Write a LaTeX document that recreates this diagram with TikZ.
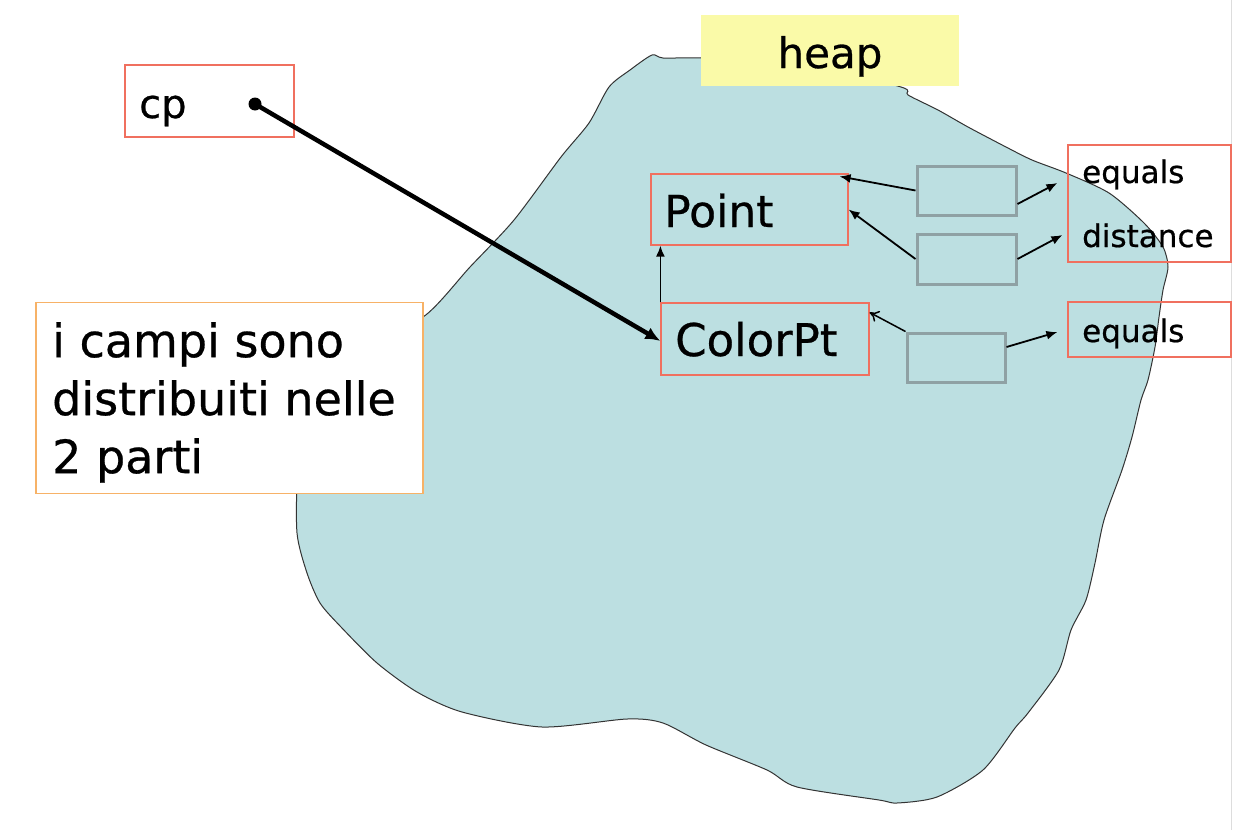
\documentclass[tikz,border=0pt]{standalone}
\usepackage{fontspec}
\setmainfont{DejaVu Sans}[FakeBold=0.6]
\usetikzlibrary{arrows.meta,calc}
\definecolor{blobfill}{HTML}{BCDFE1}
\definecolor{heapyellow}{HTML}{FAFAA8}
\definecolor{boxred}{HTML}{F0705F}
\definecolor{noteorange}{HTML}{F7B267}
\definecolor{slotgray}{HTML}{8FA1A4}
\definecolor{pageline}{HTML}{DDDDDD}
\newcommand{\fs}[1]{\fontsize{#1}{#1}\selectfont}
\begin{document}
\begin{tikzpicture}[x=1pt,y=-1pt,
  redbox/.style={draw=boxred,line width=1.2pt,rectangle,inner sep=0pt},
  slotbox/.style={draw=slotgray,line width=3pt,rectangle,inner sep=0pt,minimum width=99pt,minimum height=49pt},
  txt/.style={inner sep=0pt,anchor=base west},
  ptr/.style={line width=1.8pt,-{Latex[length=11pt,width=9pt]}},
  ptropen/.style={line width=1.5pt,-{To[length=9pt,width=12pt]}},
  bigptr/.style={line width=4.5pt,-{Latex[length=15pt,width=13pt]}}
]
\useasboundingbox (0,0) rectangle (1234,830);
\fill[white] (0,0) rectangle (1234,830);
\draw[pageline,line width=1.2pt] (1231.5,0) -- (1231.5,830);

% heap blob
\filldraw[fill=blobfill,draw=black!80,line width=1pt]
  plot[smooth cycle,tension=0.45] coordinates {
  (652,55) (663,58) (702,58) (800,62) (901,87) (908,95) (938,110) (968,127)
  (1006,147) (1032,160) (1066,173) (1109,193) (1144,223) (1163,247) (1168,267)
  (1163,290) (1159,317) (1155,347) (1148,380) (1141,400) (1132,437) (1122,470)
  (1104,520) (1095,563) (1086,600) (1071,630) (1059,670) (1028,713) (1015,728)
  (983,770) (937,797) (897,803) (879,800) (797,787) (767,770) (706,745)
  (663,723) (627,719) (542,727) (462,712) (417,692) (377,663) (341,627)
  (320,603) (307,573) (297,533) (298,470) (310,400) (360,340) (423,317)
  (470,267) (514,220) (561,157) (589,123) (609,87) (630,70)};

% heap label
\node[fill=heapyellow,minimum width=258pt,minimum height=71pt,inner sep=0pt] (heapbox) at (830,50.5) {};
\node[txt,anchor=base] (heaptxt) at (830,68) {\fs{42}heap};

% cp variable
\node[redbox,minimum width=169pt,minimum height=72pt] (cpbox) at (209.5,101) {};
\node[txt] (cptxt) at (139,118) {\fs{40}cp};
\node[circle,fill=black,inner sep=0pt,minimum size=13pt] (cpdot) at (255,104) {};

% note
\node[draw=noteorange,fill=white,line width=1.2pt,minimum width=387pt,minimum height=191pt,inner sep=0pt] (note) at (229.5,398) {};
\node[inner sep=0pt,anchor=north west,align=left,font=\fontsize{46}{58}\selectfont] (notetxt) at (52,322)
  {i campi sono\\distribuiti nelle\\2 parti};

% class boxes
\node[redbox,minimum width=197pt,minimum height=71pt] (point) at (749.5,209.5) {};
\node[txt] (pointtxt) at (664,227) {\fs{44}Point};
\node[redbox,minimum width=208pt,minimum height=72pt] (colorpt) at (765,339) {};
\node[txt] (colorpttxt) at (675,356) {\fs{45}ColorPt};

% method slots
\node[slotbox] (g1) at (966.5,190.5) {};
\node[slotbox,minimum height=50pt] (g2) at (966.5,259) {};
\node[slotbox,minimum width=98pt] (g3) at (956,357.5) {};

% method tables
\node[redbox,minimum width=163pt,minimum height=117pt] (m1) at (1149.5,203.5) {};
\node[txt] (m1a) at (1082,183) {\fs{31}equals};
\node[txt] (m1b) at (1082,247) {\fs{31}distance};
\node[redbox,minimum width=163pt,minimum height=55pt] (m2) at (1149.5,329.5) {};
\node[txt] (m2a) at (1082,342) {\fs{31}equals};

% connectors
\draw[bigptr] (cpdot.center) -- ([yshift=-2pt]colorpt.west);
\draw[ptr] (colorpt.north west) -- (colorpt.north west |- point.south);
\draw[ptr] (g1.west) -- ([xshift=-9pt,yshift=-3pt]point.north east);
\draw[ptr] (g2.west) -- (point.east);
\draw[ptropen] (g3.north west) -- ([yshift=-10pt]colorpt.north east);
\draw[ptr] ([yshift=-13.5pt]g1.east) -- ([xshift=-10pt,yshift=20.5pt]m1.west);
\draw[ptr] (g2.east) -- ([xshift=-5pt,yshift=-31.5pt]m1.west);
\draw[ptr] ([yshift=10.5pt]g3.east) -- ([xshift=-10pt,yshift=-2.5pt]m2.west);
\end{tikzpicture}
\end{document}
